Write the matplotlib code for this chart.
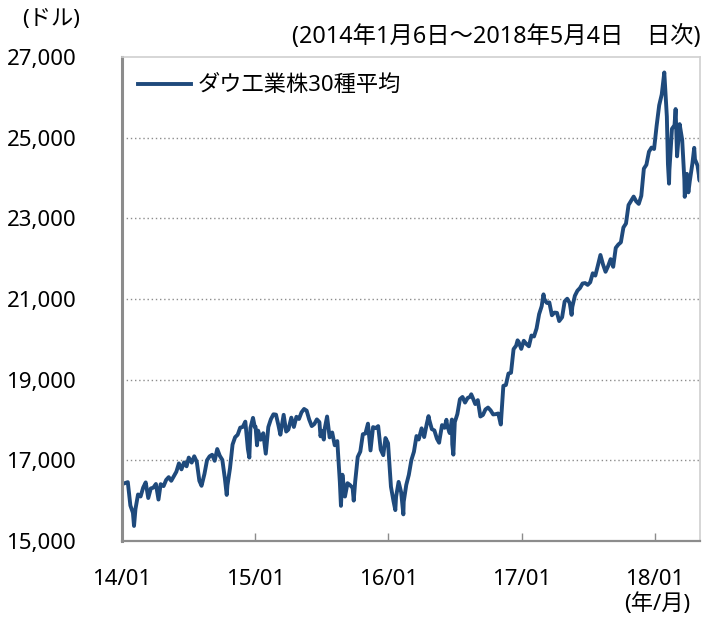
import pandas as pd
import matplotlib
matplotlib.use("Agg")
import matplotlib.pyplot as plt
from matplotlib.ticker import FuncFormatter

plt.rcParams["font.family"] = ["Noto Sans", "Noto Sans CJK JP", "DejaVu Sans"]

# ─── Data (approx. weekly closes + notable swings) ───────────────────────────
dates_2014 = ["2014-01-06", "2014-01-10", "2014-01-17", "2014-01-24", "2014-01-31", "2014-02-03",
              "2014-02-07", "2014-02-14", "2014-02-21", "2014-02-28", "2014-03-07", "2014-03-14",
              "2014-03-21", "2014-03-28", "2014-04-04", "2014-04-11", "2014-04-17", "2014-04-25",
              "2014-05-02", "2014-05-09", "2014-05-16", "2014-05-23", "2014-05-30", "2014-06-06",
              "2014-06-13", "2014-06-20", "2014-06-27", "2014-07-03", "2014-07-11", "2014-07-18",
              "2014-07-25", "2014-08-01", "2014-08-07", "2014-08-15", "2014-08-22", "2014-08-29",
              "2014-09-05", "2014-09-12", "2014-09-19", "2014-09-26", "2014-10-03", "2014-10-10",
              "2014-10-15", "2014-10-17", "2014-10-24", "2014-10-31", "2014-11-07", "2014-11-14",
              "2014-11-21", "2014-11-28", "2014-12-05", "2014-12-12", "2014-12-16", "2014-12-19",
              "2014-12-26", "2014-12-31"]
close_2014 = [16425, 16437, 16459, 15880, 15699, 15373, 15794, 16154, 16103, 16322, 16453, 16065,
              16303, 16323, 16413, 16027, 16409, 16361, 16513, 16583, 16492, 16607, 16717, 16924,
              16776, 16948, 16852, 17068, 16944, 17100, 16961, 16493, 16368, 16663, 17001, 17098,
              17138, 16988, 17280, 17113, 17010, 16544, 16142, 16380, 16805, 17391, 17573, 17634,
              17810, 17828, 17959, 17280, 17068, 17804, 18053, 17823]

dates_2015 = ["2015-01-02", "2015-01-06", "2015-01-09", "2015-01-16", "2015-01-23", "2015-01-30",
              "2015-02-06", "2015-02-13", "2015-02-20", "2015-02-27", "2015-03-06", "2015-03-11",
              "2015-03-13", "2015-03-20", "2015-03-27", "2015-04-02", "2015-04-10", "2015-04-17",
              "2015-04-24", "2015-05-01", "2015-05-08", "2015-05-15", "2015-05-22", "2015-05-29",
              "2015-06-05", "2015-06-12", "2015-06-19", "2015-06-26", "2015-06-29", "2015-07-02",
              "2015-07-08", "2015-07-10", "2015-07-17", "2015-07-24", "2015-07-31", "2015-08-07",
              "2015-08-14", "2015-08-21", "2015-08-24", "2015-08-28", "2015-09-04", "2015-09-11",
              "2015-09-18", "2015-09-25", "2015-09-28", "2015-10-02", "2015-10-09", "2015-10-16",
              "2015-10-23", "2015-10-30", "2015-11-06", "2015-11-13", "2015-11-20", "2015-11-27",
              "2015-12-04", "2015-12-11", "2015-12-18", "2015-12-24", "2015-12-31"]
close_2015 = [17833, 17372, 17737, 17511, 17672, 17165, 17825, 18019, 18141, 18133, 17856, 17635,
              17749, 18128, 17713, 17763, 18058, 17827, 18080, 18025, 18191, 18273, 18232, 18011,
              17849, 17899, 18015, 17947, 17596, 17730, 17515, 17760, 18086, 17569, 17690, 17373,
              17477, 16460, 15871, 16643, 16102, 16433, 16385, 16315, 16001, 16472, 17084, 17216,
              17647, 17664, 17910, 17245, 17824, 17798, 17848, 17265, 17128, 17553, 17425]

dates_2016 = ["2016-01-08", "2016-01-15", "2016-01-20", "2016-01-22", "2016-01-29", "2016-02-05",
              "2016-02-11", "2016-02-12", "2016-02-19", "2016-02-26", "2016-03-04", "2016-03-11",
              "2016-03-18", "2016-03-24", "2016-04-01", "2016-04-08", "2016-04-15", "2016-04-20",
              "2016-04-22", "2016-04-29", "2016-05-06", "2016-05-13", "2016-05-19", "2016-05-20",
              "2016-05-27", "2016-06-03", "2016-06-08", "2016-06-10", "2016-06-17", "2016-06-23",
              "2016-06-24", "2016-06-27", "2016-07-01", "2016-07-08", "2016-07-15", "2016-07-22",
              "2016-07-29", "2016-08-05", "2016-08-12", "2016-08-15", "2016-08-19", "2016-08-26",
              "2016-09-02", "2016-09-09", "2016-09-16", "2016-09-23", "2016-09-30", "2016-10-07",
              "2016-10-14", "2016-10-21", "2016-10-28", "2016-11-04", "2016-11-11", "2016-11-18",
              "2016-11-25", "2016-12-02", "2016-12-09", "2016-12-16", "2016-12-20", "2016-12-23",
              "2016-12-30"]
close_2016 = [16346, 15988, 15766, 16094, 16466, 16205, 15660, 15974, 16392, 16640, 17007, 17213,
              17602, 17516, 17793, 17577, 17898, 18096, 18004, 17774, 17741, 17535, 17436, 17501,
              17873, 17807, 18006, 17865, 17675, 18011, 17400, 17141, 17949, 18147, 18516, 18571,
              18432, 18544, 18577, 18637, 18553, 18395, 18492, 18086, 18124, 18262, 18308, 18240,
              18138, 18145, 18161, 17888, 18847, 18868, 19152, 19171, 19757, 19843, 19975, 19934,
              19763]

dates_2017 = ["2017-01-06", "2017-01-13", "2017-01-20", "2017-01-27", "2017-02-03", "2017-02-10",
              "2017-02-17", "2017-02-24", "2017-03-01", "2017-03-03", "2017-03-10", "2017-03-17",
              "2017-03-24", "2017-03-31", "2017-04-07", "2017-04-13", "2017-04-21", "2017-04-28",
              "2017-05-05", "2017-05-12", "2017-05-17", "2017-05-19", "2017-05-26", "2017-06-02",
              "2017-06-09", "2017-06-16", "2017-06-23", "2017-06-30", "2017-07-07", "2017-07-14",
              "2017-07-21", "2017-07-28", "2017-08-04", "2017-08-11", "2017-08-18", "2017-08-25",
              "2017-09-01", "2017-09-08", "2017-09-15", "2017-09-22", "2017-09-29", "2017-10-06",
              "2017-10-13", "2017-10-20", "2017-10-27", "2017-11-03", "2017-11-10", "2017-11-17",
              "2017-11-24", "2017-12-01", "2017-12-08", "2017-12-15", "2017-12-22", "2017-12-29"]
close_2017 = [19964, 19885, 19827, 20094, 20071, 20269, 20624, 20822, 21115, 21005, 20903, 20915,
              20597, 20663, 20656, 20453, 20548, 20941, 21007, 20897, 20607, 20805, 21080, 21206,
              21272, 21384, 21395, 21350, 21414, 21638, 21580, 21830, 22092, 21858, 21675, 21814,
              21988, 21798, 22268, 22350, 22405, 22774, 22871, 23329, 23434, 23539, 23422, 23358,
              23558, 24232, 24329, 24652, 24754, 24719]

dates_2018 = ["2018-01-05", "2018-01-12", "2018-01-19", "2018-01-26", "2018-02-02", "2018-02-05",
              "2018-02-08", "2018-02-09", "2018-02-16", "2018-02-23", "2018-02-26", "2018-03-02",
              "2018-03-09", "2018-03-16", "2018-03-22", "2018-03-23", "2018-03-29", "2018-04-02",
              "2018-04-06", "2018-04-13", "2018-04-18", "2018-04-20", "2018-04-27", "2018-05-03",
              "2018-05-04"]
close_2018 = [25296, 25803, 26072, 26617, 25521, 24346, 23860, 24191, 25219, 25310, 25710, 24538,
              25336, 24947, 23958, 23533, 24103, 23644, 23933, 24360, 24748, 24463, 24311, 23930,
              24263]

x_ticks = ["2014-01-01", "2015-01-01", "2016-01-01", "2017-01-01", "2018-01-01"]
x_labels = ["14/01", "15/01", "16/01", "17/01", "18/01"]
y_ticks = [15000, 17000, 19000, 21000, 23000, 25000, 27000]

dates = pd.to_datetime(dates_2014 + dates_2015 + dates_2016 + dates_2017 + dates_2018)
close = close_2014 + close_2015 + close_2016 + close_2017 + close_2018

# ─── Plot ────────────────────────────────────────────────────────────────────
fig = plt.figure(figsize=(7.1, 6.17), dpi=100)
ax = fig.add_axes([0.1718, 0.1232, 0.8142, 0.7844])

line_color = "#1F4A7C"
ax.plot(dates, close, color=line_color, linewidth=2.8, solid_joinstyle="round",
        label="ダウ工業株30種平均")

ax.set_xlim(dates[0], dates[-1])
ax.set_ylim(15000, 27000)
ax.set_yticks(y_ticks)
ax.yaxis.set_major_formatter(FuncFormatter(lambda v, p: f"{int(v):,}"))
ax.set_xticks(pd.to_datetime(x_ticks))
ax.set_xticklabels(x_labels)

for y in y_ticks[1:-1]:
    ax.axhline(y, color="#8c8c8c", linestyle=(0, (1, 2)), linewidth=1.0, zorder=0)

ax.tick_params(axis="y", length=0, pad=33, labelsize=16, colors="black")
ax.tick_params(axis="x", direction="in", length=6, width=1, color="#8c8c8c",
               pad=20, labelsize=16)

ax.spines["left"].set_color("#8c8c8c")
ax.spines["left"].set_linewidth(2.2)
ax.spines["bottom"].set_color("#8c8c8c")
ax.spines["bottom"].set_linewidth(1.6)
ax.spines["top"].set_color("#d0d0d0")
ax.spines["right"].set_color("#d0d0d0")
ax.spines["top"].set_linewidth(1.2)
ax.spines["right"].set_linewidth(1.2)

ax.legend(loc="upper left", frameon=False, fontsize=16, handlelength=2.4,
          handletextpad=0.3, borderpad=0, borderaxespad=0,
          bbox_to_anchor=(0.028, 0.962))

fig.text(51 / 710, 1 - 20 / 617, "(ドル)", ha="center", va="center", fontsize=16)
fig.text(700 / 710, 1 - 37 / 617, "(2014年1月6日～2018年5月4日　日次)",
         ha="right", va="center", fontsize=16.8)
fig.text(657 / 710, 1 - 604 / 617, "(年/月)", ha="center", va="center", fontsize=16)

fig.savefig("out.png", dpi=100)
